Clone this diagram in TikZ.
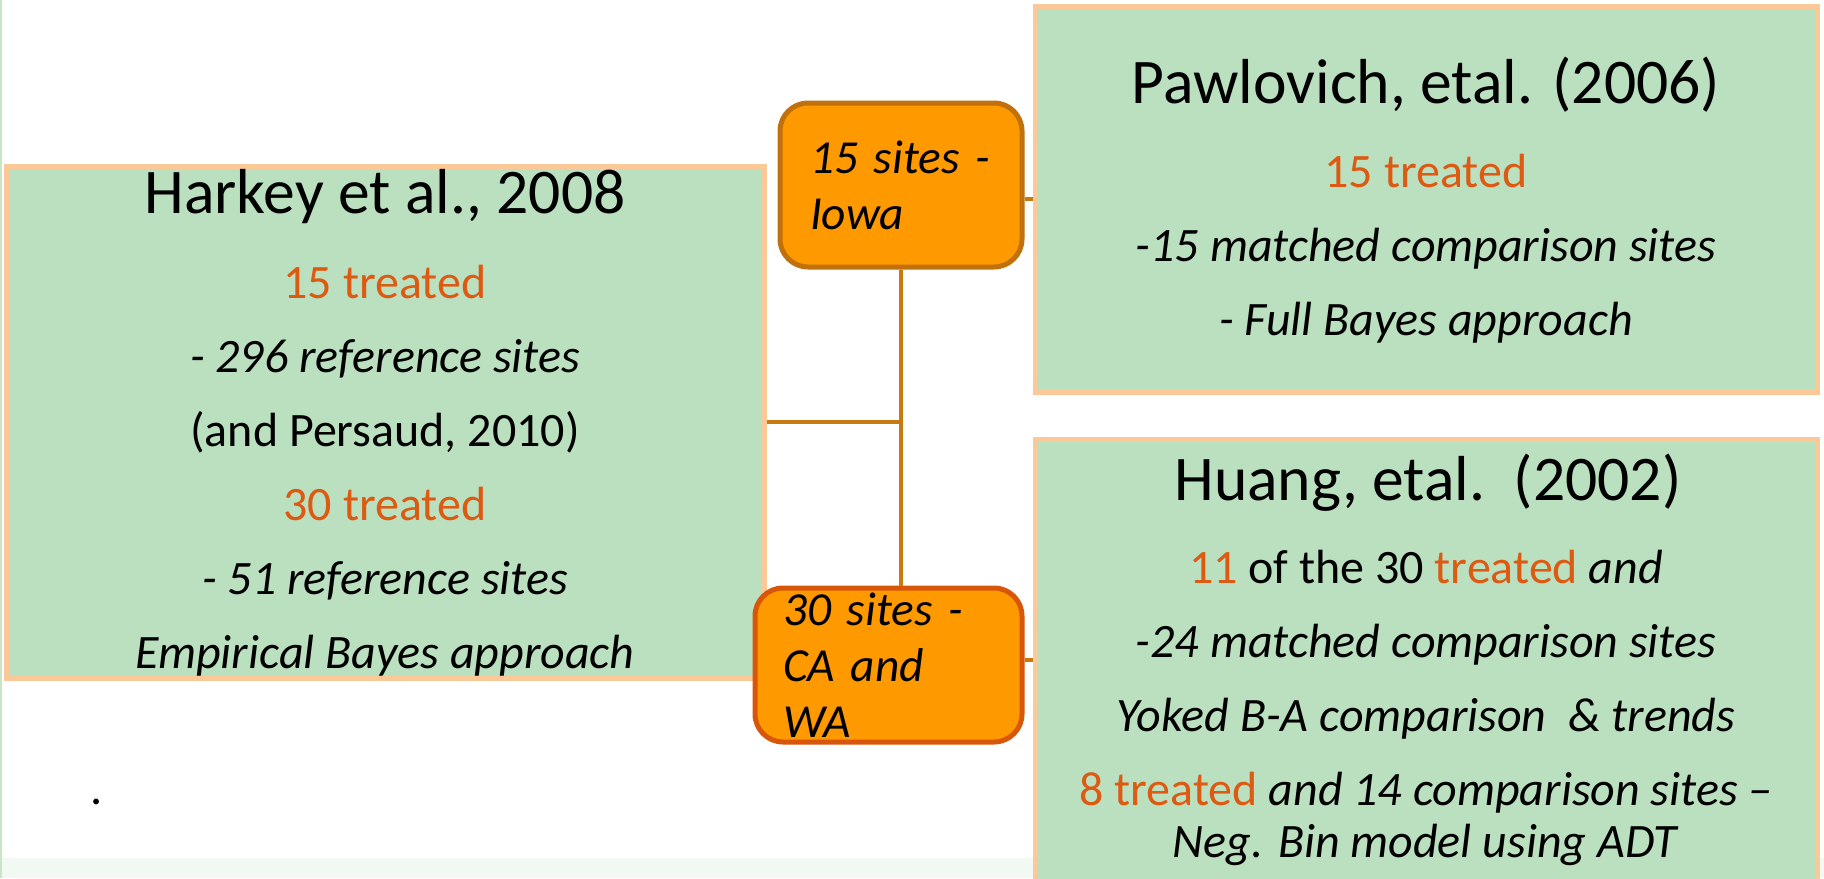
\documentclass[tikz,border=0pt]{standalone}
\usepackage{fontspec}
\setmainfont{Carlito}
\usepackage{xcolor}
\usepackage{tikz}
\usetikzlibrary{positioning, calc}

\definecolor{boxgreen}{RGB}{187,224,192}
\definecolor{peach}{RGB}{251,201,152}
\definecolor{siteorange}{RGB}{255,153,0}
\definecolor{iowaedge}{RGB}{192,112,12}
\definecolor{caedge}{RGB}{216,86,10}
\definecolor{linkbrown}{RGB}{200,122,16}
\definecolor{treatred}{RGB}{221,90,18}
\definecolor{stripgreen}{RGB}{242,248,242}
\definecolor{edgegreen}{RGB}{198,230,198}

\newcommand{\treat}[1]{\textcolor{treatred}{#1}}

\begin{document}
\begin{tikzpicture}[x=0.5pt, y=-0.5pt,
    studybox/.style={draw=peach, fill=boxgreen, line width=2.5pt, inner sep=0},
    sitebox/.style={fill=siteorange, line width=2.5pt, rounded corners=14pt, inner sep=0,
        align=left, font=\fontsize{23.7}{28}\selectfont\itshape},
    ttl/.style={inner sep=0, font=\fontsize{31.8}{36}\selectfont},
    body/.style={inner sep=0, align=center, font=\fontsize{24}{37}\selectfont},
    link/.style={draw=linkbrown, line width=2pt}]
    % page
    \useasboundingbox (0,0) rectangle (1824,878);
    \fill[white] (0,0) rectangle (1824,878);
    \fill[stripgreen] (0,858) rectangle (1824,878);
    \draw[edgegreen, line width=1pt] (1,0) -- (1,878);

    % study boxes
    \node[studybox, minimum width=379pt, minimum height=256pt] (harkey) at (385,422) {};
    \node[studybox, minimum width=391pt, minimum height=193pt] (pawlovich) at (1426,199) {};
    \node[studybox, minimum width=391pt, minimum height=221pt] (huang) at (1426,660) {};

    % site boxes
    \node[sitebox, draw=iowaedge, minimum width=121pt, minimum height=82pt, text width=91pt]
        (iowa) at (901,185) {15 sites -\\Iowa};
    \node[sitebox, draw=caedge, minimum width=133.5pt, minimum height=77pt, text width=105.5pt]
        (ca) at (888.5,665) {30 sites -\\CA and\\WA};

    % connectors
    \draw[link] (iowa.south) -- (iowa.south |- ca.north);
    \draw[link] (harkey.east) -- (harkey.east -| iowa.south);
    \draw[link] (iowa.east |- pawlovich.west) -- (pawlovich.west);
    \draw[link] (ca.east |- huang.west) -- (huang.west);

    % Harkey (base = last line)
    \node[ttl, anchor=base] (harkeyttl) at (385,213) {Harkey et al., 2008};
    \node[body, anchor=base] (harkeytxt) at (385,668) {\treat{15 treated}\\
        \textit{- 296 reference sites}\\ (and Persaud, 2010)\\ \treat{30 treated}\\
        \textit{- 51 reference sites}\\ \textit{Empirical Bayes approach}};

    % Pawlovich
    \node[ttl, anchor=base] (pawlovichttl) at (1426,103) {Pawlovich, etal. (2006)};
    \node[body, anchor=base] (pawlovichtxt) at (1426,335) {\treat{15 treated}\\
        \textit{-15 matched comparison sites}\\ \textit{- Full Bayes approach}};

    % Huang
    \node[ttl, anchor=base] (huangttl) at (1428,500) {Huang, etal.\ \ (2002)};
    \node[body, anchor=base] (huangtxt) at (1426,857) {\treat{11} of the 30 \treat{treated} \textit{and}\\
        \textit{-24 matched comparison sites}\\ \textit{Yoked B-A comparison\ \ \& trends}\\
        \treat{8 treated} \textit{and 14 comparison sites --}\\[-11pt] \textit{Neg. Bin model using ADT}};

    \node[body, anchor=base west] (dot) at (91,804) {\textit{.}};
\end{tikzpicture}
\end{document}
